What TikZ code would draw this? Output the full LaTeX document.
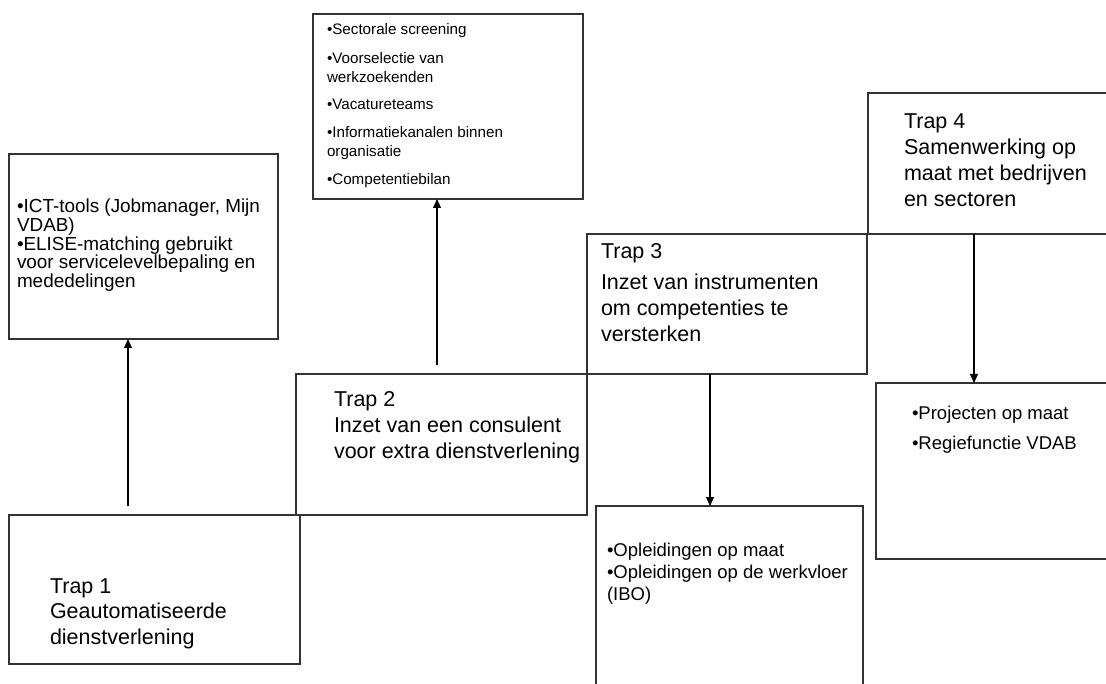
\documentclass[tikz,border=0pt]{standalone}
\usepackage{fontspec}
\setmainfont{Liberation Sans}
\usetikzlibrary{arrows.meta}
\newcommand\tline[1]{\hbox{#1}}
\newcommand\tgap[1]{\vskip #1\relax}
\newcommand\tstack[1]{\vtop{#1}}
\tikzset{
  box/.style={draw=black!80, line width=1.1pt, inner sep=0pt, outer sep=0pt, anchor=north west},
  txt/.style={inner sep=0pt, outer sep=0pt, anchor=base west},
  big/.style={txt, font=\fontsize{21.5}{25.8}\selectfont},
  mid/.style={txt, font=\fontsize{18.5}{22}\selectfont},
  arr/.style={draw=black, line width=1.1pt, -{Triangle[length=9pt,width=8pt]}},
}
\begin{document}
\begin{tikzpicture}[x=1pt,y=-1pt]
\useasboundingbox (0,0) rectangle (1106,684);
\clip (0,0) rectangle (1106,684);
% boxes
\node[box, minimum width=269pt, minimum height=185pt] (ict) at (9,154) {};
\node[box, minimum width=270pt, minimum height=185pt] (sect) at (313,14) {};
\node[box, minimum width=291pt, minimum height=149pt] (trap1) at (9,515) {};
\node[box, minimum width=291pt, minimum height=141pt] (trap2) at (296,374) {};
\node[box, minimum width=280pt, minimum height=140pt] (trap3) at (587,234) {};
\node[box, minimum width=270pt, minimum height=141pt] (trap4) at (868,93) {};
\node[box, minimum width=267pt, minimum height=210pt] (opl) at (596,506) {};
\node[box, minimum width=260pt, minimum height=176pt] (proj) at (876,383) {};
% texts
\node[txt, font=\fontsize{18.9}{17.6}\selectfont] (ictt) at (17,213)
  {\tstack{\tline{•ICT-tools (Jobmanager, Mijn}\tline{VDAB)}\tline{•ELISE-matching gebruikt}\tline{voor servicelevelbepaling en}\tline{mededelingen}}};
\node[txt, font=\fontsize{15.2}{19}\selectfont] (sectt) at (327,35)
  {\tstack{\tline{•Sectorale screening}\tgap{10pt}\tline{•Voorselectie van}\tline{werkzoekenden}\tgap{8pt}\tline{•Vacatureteams}\tgap{9pt}\tline{•Informatiekanalen binnen}\tline{organisatie}\tgap{9pt}\tline{•Competentiebilan}}};
\node[big] (t1) at (50,593) {\tstack{\tline{Trap 1}\tline{Geautomatiseerde}\tline{dienstverlening}}};
\node[big] (t2) at (334,407) {\tstack{\tline{Trap 2}\tline{Inzet van een consulent}\tline{voor extra dienstverlening}}};
\node[big] (t3) at (601,259) {\tstack{\tline{Trap 3}\tgap{5pt}\tline{Inzet van instrumenten}\tline{om competenties te}\tline{versterken}}};
\node[big] (t4) at (904,129) {\tstack{\tline{Trap 4}\tline{Samenwerking op}\tline{maat met bedrijven}\tline{en sectoren}}};
\node[mid] (oplt) at (607,556.5) {\tstack{\tline{•Opleidingen op maat}\tline{•Opleidingen op de werkvloer}\tline{(IBO)}}};
\node[mid] (projt) at (912,420) {\tstack{\tline{•Projecten op maat}\tgap{8pt}\tline{•Regiefunctie VDAB}}};
% connectors
\coordinate (s1) at (128,506);
\coordinate (s2) at (437,365);
\coordinate (s3) at (710,374);
\coordinate (s4) at (974,234);
\draw[arr] (s1) -- (s1 |- ict.south);
\draw[arr] (s2) -- (s2 |- sect.south);
\draw[arr] (s3 |- trap3.south) -- (s3 |- opl.north);
\draw[arr] (s4 |- trap4.south) -- (s4 |- proj.north);
\end{tikzpicture}
\end{document}
